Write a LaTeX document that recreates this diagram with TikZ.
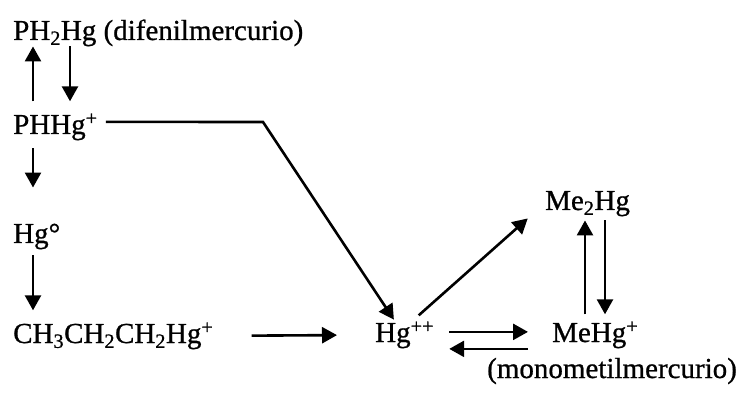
\documentclass[tikz,border=0pt]{standalone}
\usepackage{fontspec}
\setmainfont{Liberation Serif}
\newfontfamily\chemfont{Liberation Serif}[FakeBold=0.8]
\usetikzlibrary{arrows.meta}

\tikzset{
    chem/.style={inner sep=0pt, anchor=base west,
        font=\chemfont\fontsize{29}{34}\selectfont},
    reac/.style={line width=2.6pt, -{Triangle[width=16pt,length=15pt]}}
}

\begin{document}
\begin{tikzpicture}[x=1pt, y=-1pt]
    \useasboundingbox (0,0) rectangle (745,393);

    % Species
    \node[chem] (ph2)  at (13,40)  {PH\textsubscript{2}Hg (difenilmercurio)};
    \node[chem] (phhg) at (13,134) {PHHg\textsuperscript{+}};
    \node[chem] (hg0)  at (13,243) {Hg°};
    \node[chem] (prop) at (13,343) {CH\textsubscript{3}CH\textsubscript{2}CH\textsubscript{2}Hg\textsuperscript{+}};
    \node[chem] (hgpp) at (375,342) {Hg\textsuperscript{++}};
    \node[chem] (me2)  at (545,210) {Me\textsubscript{2}Hg};
    \node[chem] (mehg) at (552,342) {MeHg\textsuperscript{+}};
    \node[chem] (mono) at (487,378) {(monometilmercurio)};

    % Left column
    \draw[reac, shorten <=12pt] ([xshift=20pt]phhg.north west) -- ([xshift=20pt]ph2.south west);
    \draw[reac, shorten >=12pt] ([xshift=57pt]ph2.south west) -- ([xshift=57pt]phhg.north west);
    \draw[reac, shorten <=8pt, shorten >=36pt] ([xshift=20pt]phhg.south west) -- ([xshift=20pt]hg0.north west);
    \draw[reac, shorten <=6pt, shorten >=12pt] ([xshift=20pt]hg0.south west) -- ([xshift=20pt]prop.north west);

    % Paths to Hg++
    \coordinate (bend) at (263,122);
    \draw[reac, shorten >=2pt] ([xshift=8pt,yshift=5pt]phhg.east) -- (bend) -- ([xshift=20pt]hgpp.north west);
    \draw[reac, shorten <=38pt, shorten >=38pt] (prop.east) -- (hgpp.west);

    % Methylation
    \draw[reac, shorten <=9pt, shorten >=3pt] ([xshift=37pt]hgpp.north west) -- ([xshift=-15pt]me2.south west);
    \draw[reac, shorten <=15pt, shorten >=24pt] ([yshift=3pt]hgpp.east) -- ([yshift=3pt]mehg.west);
    \draw[reac, shorten <=24pt, shorten >=15pt] ([yshift=-14pt]mehg.west) -- ([yshift=-14pt]hgpp.east);
    \draw[reac, shorten <=7pt, shorten >=4pt] ([xshift=33pt]mehg.north west) -- ([xshift=40pt]me2.south west);
    \draw[reac, shorten <=4pt, shorten >=7pt] ([xshift=60pt]me2.south west) -- ([xshift=53pt]mehg.north west);
\end{tikzpicture}
\end{document}
